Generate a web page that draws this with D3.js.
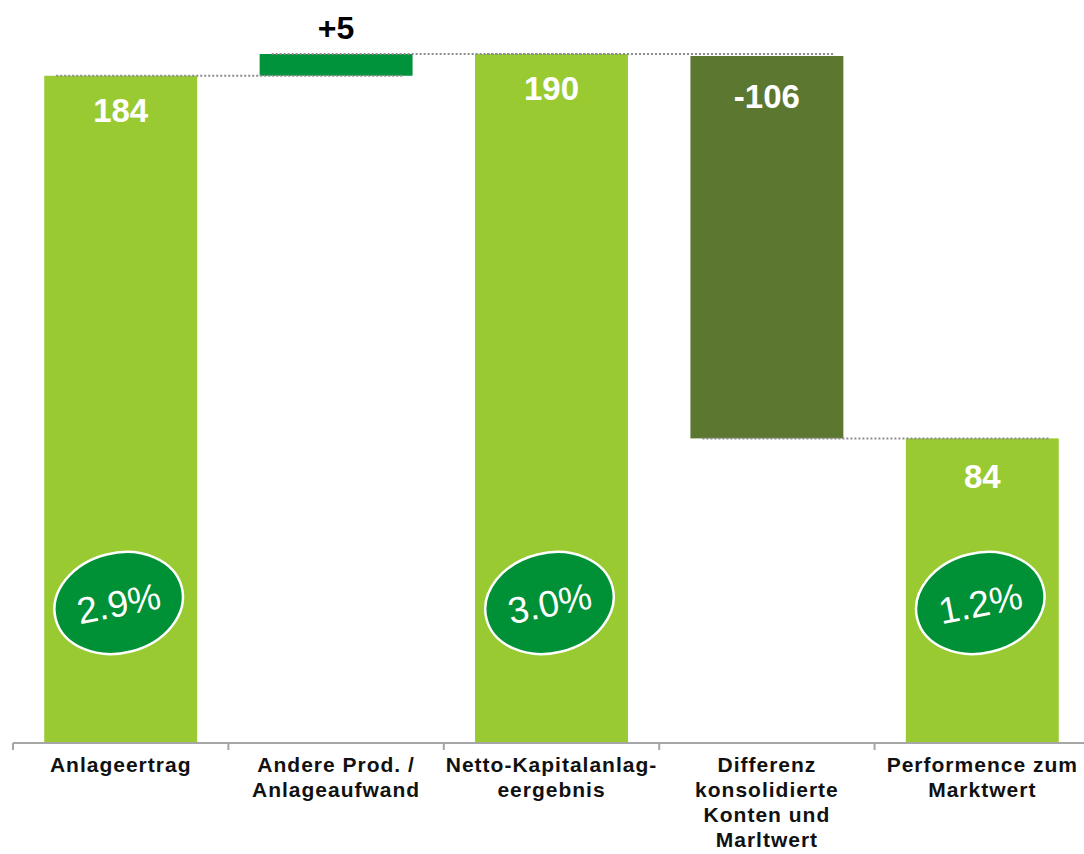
<!DOCTYPE html>
<html>
<head>
<meta charset="utf-8">
<script src="https://cdn.jsdelivr.net/npm/d3@7"></script>
<style>
  body { margin: 0; background: #fff; }
  svg { font-family: "Liberation Sans", Arial, sans-serif; }
</style>
</head>
<body>
<div id="chart"></div>
<script>
// categories (one label line per array entry)
var categories = ["Anlageertrag", "Andere Prod.", "Netto-Kapitalanlag", "Differenz", "Performence zum"];
var catLines = [
	["Anlageertrag"],
	["Andere Prod. /", "Anlageaufwand"],
	["Netto-Kapitalanlag-", "eergebnis"],
	["Differenz", "konsolidierte", "Konten und", "Marltwert"],
	["Performence zum", "Marktwert"]
];
var values = [184, 5, 190, -106, 84];
var valueLabels = ["184", "+5", "190", "-106", "84"];
var kinds = ["total", "delta", "total", "delta", "total"];
var percents = ["2.9%", null, "3.0%", null, "1.2%"];

var width = 1084,
	height = 854,
	baseY = 743,
	topY = 54;

var colors = { total: "#9aca32", up: "#00933b", down: "#5b7730", ellipse: "#009036" };

// waterfall: deltas span between neighbouring totals
var bars = values.map(function (v, i) {
	var lo, hi;
	if (kinds[i] === "total") { lo = 0; hi = v; }
	else {
		var prev = values[i - 1], next = values[i + 1];
		lo = Math.min(prev, next); hi = Math.max(prev, next);
	}
	return { cat: categories[i], value: v, label: valueLabels[i], kind: kinds[i], lo: lo, hi: hi, pct: percents[i], lines: catLines[i] };
});

var svg = d3.select("#chart").append("svg")
	.attr("width", width)
	.attr("height", height);

var xBand = d3.scaleBand()
	.domain(categories)
	.range([13, 1090])
	.padding(0);

var xBar = xBand.copy()
	.paddingInner(0.29)
	.paddingOuter(0.145);

var y = d3.scaleLinear()
	.domain([0, 190])
	.range([baseY, topY]);

// bars
svg.selectAll(".bar")
	.data(bars)
	.enter()
	.append("rect")
	.attr("class", "bar")
	.attr("x", d => xBar(d.cat))
	.attr("width", xBar.bandwidth())
	.attr("y", d => y(d.hi) + (d.kind === "delta" && d.value < 0 ? 2 : 0))
	.attr("height", d => y(d.lo) - y(d.hi) - (d.kind === "delta" && d.value < 0 ? 2 : 0))
	.attr("fill", d => d.kind === "total" ? colors.total : (d.value > 0 ? colors.up : colors.down));

// dotted connectors
var links = [];
for (var i = 0; i < bars.length - 1; i++) {
	var a = bars[i], b = bars[i + 1];
	var level = a.kind === "total" ? a.hi : (a.value > 0 ? a.hi : a.lo);
	links.push({ from: a.cat, to: b.cat, level: level });
}
svg.selectAll(".link")
	.data(links)
	.enter()
	.append("line")
	.attr("class", "link")
	.attr("x1", d => xBar(d.from) + 12)
	.attr("x2", d => xBar(d.to) + xBar.bandwidth() - 10)
	.attr("y1", d => y(d.level))
	.attr("y2", d => y(d.level))
	.attr("stroke", "#8c8c8c")
	.attr("stroke-width", 2)
	.attr("stroke-dasharray", "2,2");

// value labels
function labelY(d) {
	if (d.kind === "delta" && d.value > 0) return y(d.hi) - 15;
	if (d.kind === "delta") return y(d.hi) + 54;
	return y(d.hi) + (d.value < 100 ? 50 : 46);
}
svg.selectAll(".val")
	.data(bars)
	.enter()
	.append("text")
	.attr("class", "val")
	.attr("x", d => xBar(d.cat) + xBar.bandwidth() / 2)
	.attr("y", labelY)
	.attr("text-anchor", "middle")
	.attr("font-weight", "bold")
	.attr("font-size", d => d.kind === "delta" && d.value > 0 ? 32 : 33)
	.attr("fill", d => d.kind === "delta" && d.value > 0 ? "#000" : "#fff")
	.text(d => d.label);

// percentage ellipses
var pct = svg.selectAll(".pct")
	.data(bars.filter(d => d.pct))
	.enter()
	.append("g")
	.attr("class", "pct")
	.attr("transform", d => "translate(" + (xBar(d.cat) + xBar.bandwidth() / 2 - 2) + "," + 603 + ")");

pct.append("ellipse")
	.attr("rx", 65)
	.attr("ry", 50)
	.attr("transform", "rotate(-14)")
	.attr("fill", colors.ellipse)
	.attr("stroke", "#fff")
	.attr("stroke-width", 2.5);

pct.append("text")
	.attr("transform", "rotate(-11)")
	.attr("text-anchor", "middle")
	.attr("dy", "0.36em")
	.attr("font-size", 37)
	.attr("fill", "#fff")
	.text(d => d.pct);

// axis
var axis = svg.append("g").attr("class", "axis");
axis.append("line")
	.attr("x1", xBand.range()[0])
	.attr("x2", width)
	.attr("y1", baseY)
	.attr("y2", baseY)
	.attr("stroke", "#a6a6a6")
	.attr("stroke-width", 2);
axis.selectAll(".tick")
	.data(categories)
	.enter()
	.append("line")
	.attr("class", "tick")
	.attr("x1", d => xBand(d))
	.attr("x2", d => xBand(d))
	.attr("y1", baseY)
	.attr("y2", baseY + 7)
	.attr("stroke", "#a6a6a6")
	.attr("stroke-width", 2);

var catText = svg.selectAll(".cat")
	.data(bars)
	.enter()
	.append("text")
	.attr("class", "cat")
	.attr("x", d => xBand(d.cat) + xBand.bandwidth() / 2)
	.attr("y", 772)
	.attr("text-anchor", "middle")
	.attr("font-weight", "bold")
	.attr("font-size", 21)
	.attr("letter-spacing", 1)
	.attr("fill", "#111");

catText.selectAll("tspan")
	.data(d => d.lines.map(l => ({ t: l, x: xBand(d.cat) + xBand.bandwidth() / 2 })))
	.enter()
	.append("tspan")
	.attr("x", d => d.x)
	.attr("dy", (d, i) => i === 0 ? 0 : 25)
	.text(d => d.t);
</script>
</body>
</html>
